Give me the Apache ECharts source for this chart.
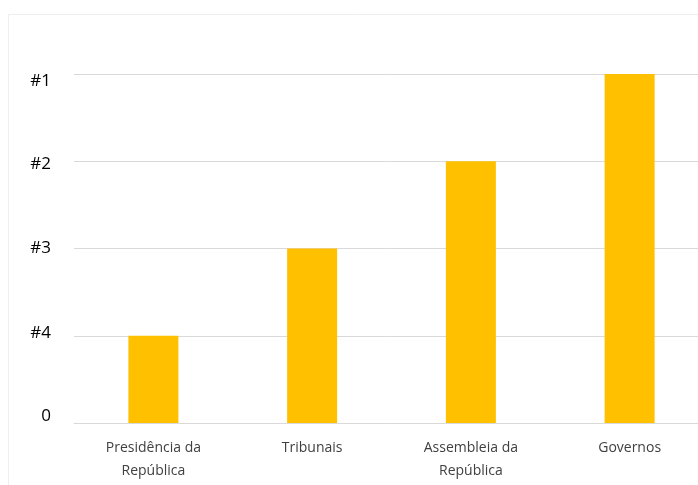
<!DOCTYPE html>
<html>
<head>
<meta charset="utf-8">
<script src="https://cdn.jsdelivr.net/npm/echarts@6/dist/echarts.min.js"></script>
<style>
  html, body { margin: 0; padding: 0; background: #fff; }
  #chart { width: 698px; height: 485px; }
</style>
</head>
<body>
<div id="chart"></div>
<script>
// categorias e posições (1 = #4 ... 4 = #1)
const categories = ['Presidência da\nRepública', 'Tribunais', 'Assembleia da\nRepública', 'Governos'];
const values = [1, 2, 3, 4];
const tickLabels = ['0', '#4', '#3', '#2', '#1'];

// deslocamento vertical dos rótulos do eixo y (como no Excel)
const labelPad = [[0, 0, 14, 0], [0, 0, 6, 0], [0, 0, 0, 0], [6, 0, 0, 0], [15, 0, 0, 0]];
const rich = {};
labelPad.forEach((p, i) => {
  rich['p' + i] = { padding: p, fontSize: 17, color: '#000', fontFamily: 'Open Sans' };
});

const chart = echarts.init(document.getElementById('chart'));
const option = {
  animation: false,
  graphic: [{
    type: 'rect',
    shape: { x: 8.5, y: 14.5, width: 720, height: 500 },
    style: { fill: 'none', stroke: '#eeeeee', lineWidth: 1 },
    silent: true
  }],
  grid: { left: 74, width: 635, top: 74, bottom: 62, outerBoundsMode: 'none' },
  xAxis: {
    type: 'category',
    data: categories,
    axisLine: { lineStyle: { color: '#d9d9d9' } },
    axisTick: { show: false },
    axisLabel: {
      color: '#404040',
      fontFamily: 'Open Sans',
      fontSize: 14,
      lineHeight: 23,
      margin: 14
    }
  },
  yAxis: {
    type: 'value',
    min: 0,
    max: 4,
    interval: 1,
    axisLine: { show: false },
    axisTick: { show: false },
    splitLine: { lineStyle: { color: '#d9d9d9' } },
    axisLabel: {
      margin: 23,
      formatter: v => '{p' + v + '|' + tickLabels[v] + '}',
      rich: rich
    }
  },
  series: [{
    type: 'bar',
    data: values,
    barWidth: 50,
    itemStyle: { color: '#FFC000' }
  }]
};
chart.setOption(option);
</script>
</body>
</html>
